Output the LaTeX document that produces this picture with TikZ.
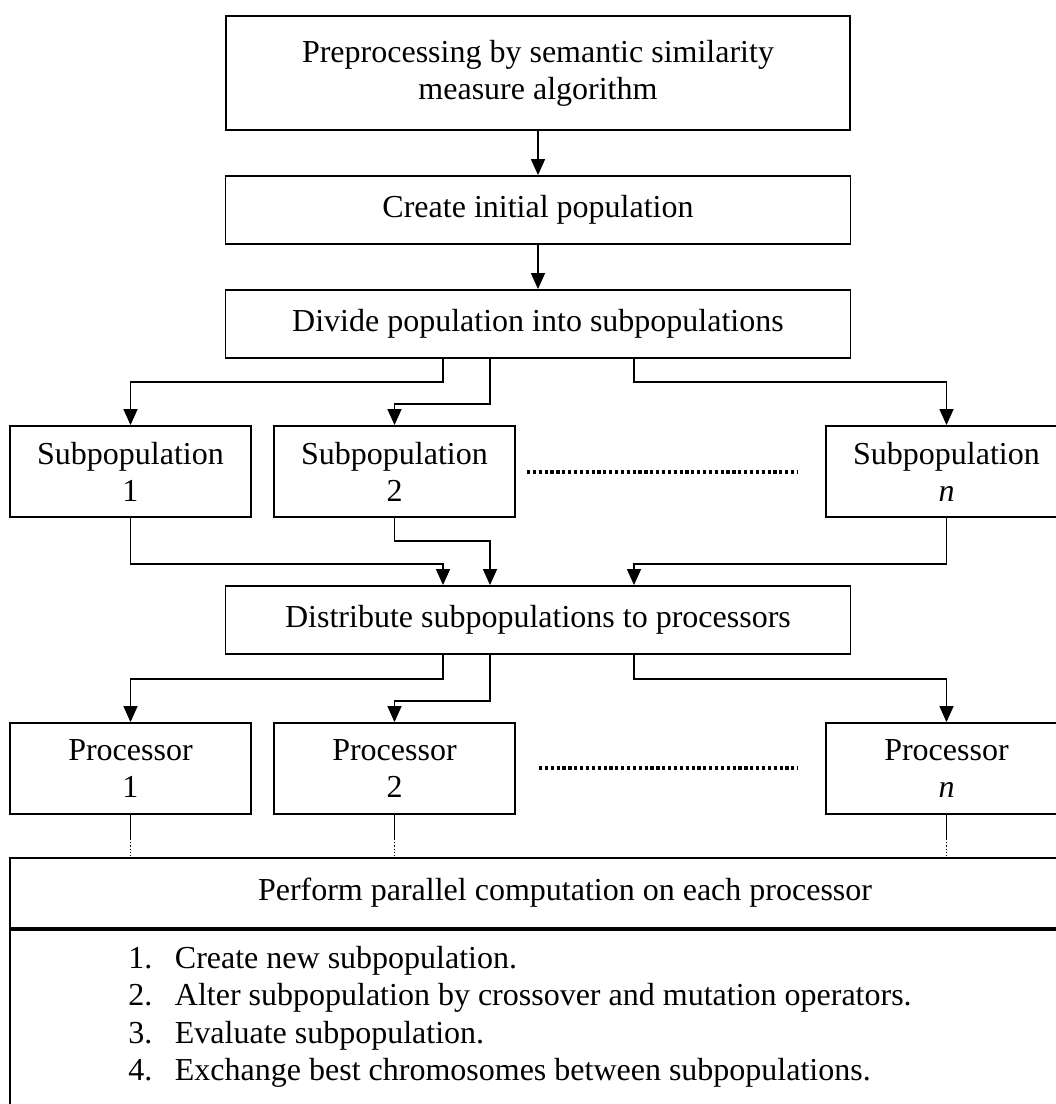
\documentclass[tikz,border=0pt]{standalone}
\usepackage{fontspec}
\setmainfont{Liberation Serif}
\usetikzlibrary{arrows.meta,calc}
\tikzset{
  box/.style={draw, line width=1.4pt, align=center, inner sep=0pt,
    font=\fontsize{24}{27.75}\selectfont},
  widebox/.style={box, minimum width=468.75pt, minimum height=51pt},
  smallbox/.style={box, minimum width=180.75pt, minimum height=68.25pt},
  txt/.style={inner sep=0pt, font=\fontsize{24}{27.75}\selectfont},
  arr/.style={line width=1.1pt, -{Triangle[width=10.5pt,length=12pt]}},
  link/.style={line width=1.1pt},
  bigdots/.style={line width=3.6pt, dash pattern=on 2.4pt off 2pt},
  finedots/.style={line width=0.8pt, dash pattern=on 1pt off 1.4pt},
}
\begin{document}
\begin{tikzpicture}[x=0.75pt,y=-0.75pt]
\path[use as bounding box] (0,0) rectangle (1056,1104);
\clip (0,0) rectangle (1056,1104);

% main chain
\node[box, minimum width=468pt, minimum height=85.5pt] (pre) at (538,73)
  {Preprocessing by semantic similarity\\measure algorithm};
\node[widebox] (create) at (538,210) {Create initial population};
\node[widebox] (divide) at (538,324) {Divide population into subpopulations};

% subpopulations
\node[smallbox] (sub1) at (130.5,471.5) {Subpopulation\\1};
\node[smallbox] (sub2) at (394.5,471.5) {Subpopulation\\2};
\node[smallbox] (subn) at (946.5,471.5) {Subpopulation\\\textit{n}};
\coordinate (sdotA) at (527,472);
\coordinate (sdotB) at (798,472);

\node[widebox] (dist) at (538,620) {Distribute subpopulations to processors};

% processors
\node[smallbox] (proc1) at (130.5,768.5) {Processor\\1};
\node[smallbox] (proc2) at (394.5,768.5) {Processor\\2};
\node[smallbox] (procn) at (946.5,768.5) {Processor\\\textit{n}};
\coordinate (pdotA) at (539,768);
\coordinate (pdotB) at (798,768);

% parallel computation block
\node[box, minimum width=832.5pt, minimum height=52.5pt] (perform) at (565,893)
  {Perform parallel computation on each processor};
\node[draw, line width=1.4pt, inner sep=0pt, anchor=north west,
  minimum width=832.5pt, minimum height=210pt] (steps) at (perform.south west) {};
\node[txt, anchor=base west] (s1) at (128,968.5) {\makebox[35pt][l]{1.}Create new subpopulation.};
\node[txt, anchor=base west] (s2) at (128,1005.5) {\makebox[35pt][l]{2.}Alter subpopulation by crossover and mutation operators.};
\node[txt, anchor=base west] (s3) at (128,1043) {\makebox[35pt][l]{3.}Evaluate subpopulation.};
\node[txt, anchor=base west] (s4) at (128,1080) {\makebox[35pt][l]{4.}Exchange best chromosomes between subpopulations.};

% connectors
\draw[arr] (pre) -- (create);
\draw[arr] (create) -- (divide);

\draw[arr] ($(divide.south)+(-95,0)$) -- ++(0,23) -| (sub1.north);
\draw[arr] ($(divide.south)+(-48,0)$) -- ++(0,45) -| (sub2.north);
\draw[arr] ($(divide.south)+(96,0)$) -- ++(0,23) -| (subn.north);

\draw[arr] (sub1.south) -- ++(0,46) -| ($(dist.north)+(-95,0)$);
\draw[arr] (sub2.south) -- ++(0,23) -| ($(dist.north)+(-48,0)$);
\draw[arr] (subn.south) -- ++(0,46) -| ($(dist.north)+(96,0)$);

\draw[arr] ($(dist.south)+(-95,0)$) -- ++(0,24) -| (proc1.north);
\draw[arr] ($(dist.south)+(-48,0)$) -- ++(0,46) -| (proc2.north);
\draw[arr] ($(dist.south)+(96,0)$) -- ++(0,24) -| (procn.north);

% ellipses between the rows
\draw[bigdots] (sdotA) -- (sdotB);
\draw[bigdots] (pdotA) -- (pdotB);

% processors feeding the parallel block
\foreach \p in {proc1,proc2,procn}{
  \draw[link] (\p.south) -- ++(0,24) coordinate (\p-mid);
  \draw[finedots] (\p-mid) -- (\p-mid |- perform.north);
}
\end{tikzpicture}
\end{document}
